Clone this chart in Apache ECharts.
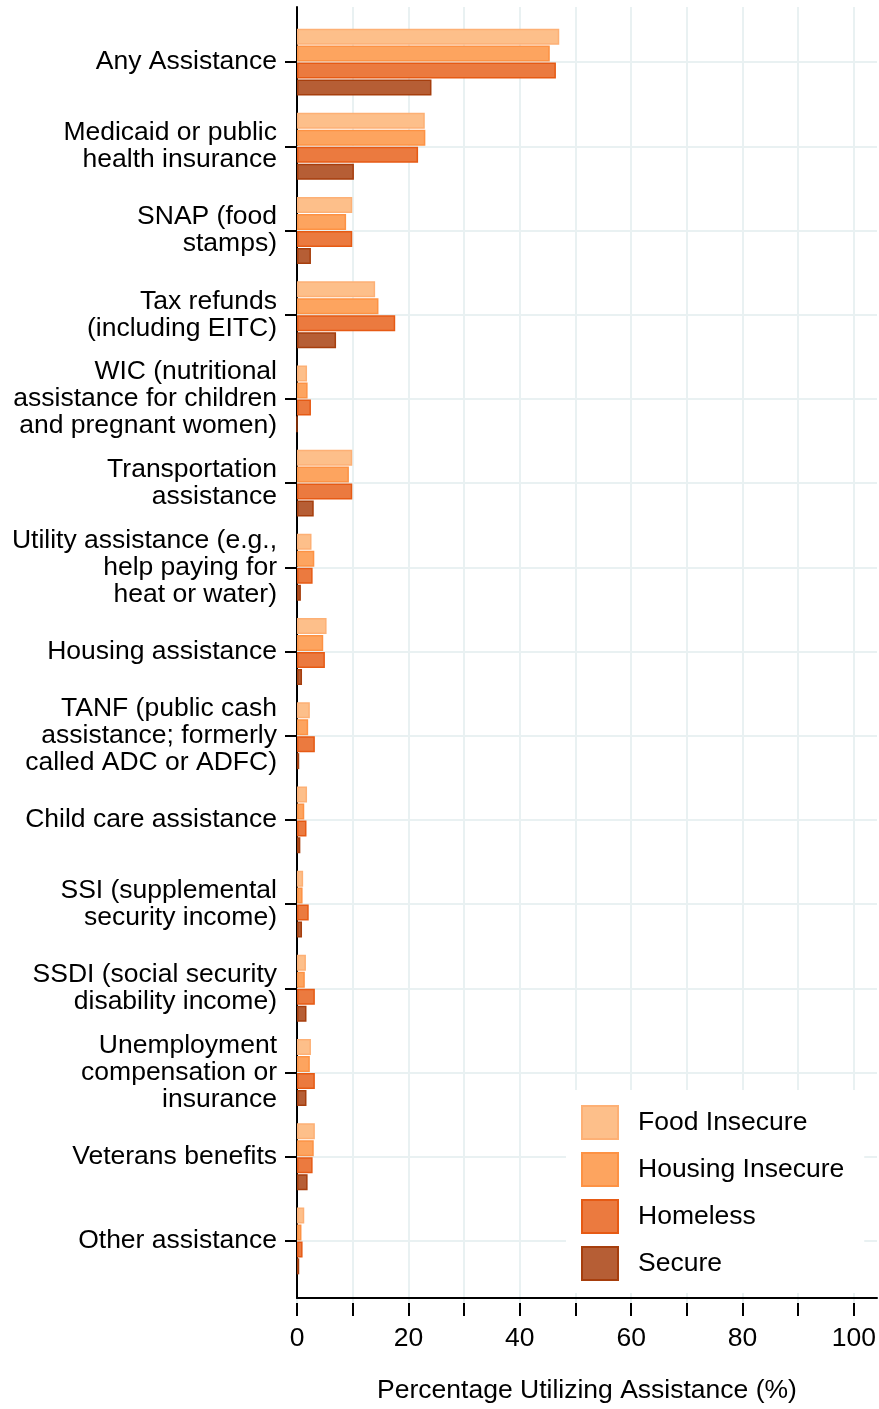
<!DOCTYPE html>
<html>
<head>
<meta charset="utf-8">
<script src="https://cdn.jsdelivr.net/npm/echarts@6/dist/echarts.min.js"></script>
<style>
html,body{margin:0;padding:0;background:#fff;}
#chart{width:879px;height:1409px;}
</style>
</head>
<body>
<div id="chart"></div>
<script>
const categories = [
  "Any Assistance",
  "Medicaid or public\nhealth insurance",
  "SNAP (food\nstamps)",
  "Tax refunds\n(including EITC)",
  "WIC (nutritional\nassistance for children\nand pregnant women)",
  "Transportation\nassistance",
  "Utility assistance (e.g.,\nhelp paying for\nheat or water)",
  "Housing assistance",
  "TANF (public cash\nassistance; formerly\ncalled ADC or ADFC)",
  "Child care assistance",
  "SSI (supplemental\nsecurity income)",
  "SSDI (social security\ndisability income)",
  "Unemployment\ncompensation or\ninsurance",
  "Veterans benefits",
  "Other assistance"
];
const seriesNames = ["Food Insecure", "Housing Insecure", "Homeless", "Secure"];
const foodInsecure    = [47.0, 22.9, 9.9, 14.0, 1.8, 9.9, 2.6, 5.3, 2.3, 1.8, 1.1, 1.6, 2.5, 3.2, 1.3];
const housingInsecure = [45.3, 23.0, 8.8, 14.6, 1.9, 9.3, 3.1, 4.7, 2.0, 1.3, 1.0, 1.4, 2.3, 3.0, 0.8];
const homeless        = [46.4, 21.7, 9.9, 17.6, 2.5, 9.9, 2.8, 5.0, 3.2, 1.7, 2.1, 3.2, 3.2, 2.8, 1.0];
const secure          = [24.1, 10.2, 2.5, 7.0, 0.0, 3.0, 0.7, 0.9, 0.4, 0.6, 0.9, 1.7, 1.7, 1.9, 0.4];
const xTickValues = [0, 20, 40, 60, 80, 100];
const xTitle = "Percentage Utilizing Assistance (%)";

const fills   = ["#FDBF8A", "#FDA45F", "#EB7A3F", "#B65E35"];
const borders = ["#FDB075", "#FD9244", "#E65A14", "#A63E0D"];
const gridColor = "#E9F1F2";
const FONT = "Liberation Sans, Arial, sans-serif";
const FS = 26.5;

const chart = echarts.init(document.getElementById('chart'), null, {renderer: 'canvas'});
const dataArr = [foodInsecure, housingInsecure, homeless, secure];

const option = {
  backgroundColor: '#ffffff',
  animation: false,
  textStyle: {fontFamily: FONT},
  grid: [
    {left: 297, top: 7, width: 580, height: 1296},
    {left: 297, top: 7, width: 558, height: 1296},
    {left: 297, top: 20, width: 558, height: 1263}
  ],
  xAxis: [
    {gridIndex: 0, type: 'value', min: 0, max: 1,
     axisLine: {show: true, onZero: false, lineStyle: {color: '#000', width: 2}},
     axisTick: {show: false}, axisLabel: {show: false}, splitLine: {show: false},
     name: xTitle, nameLocation: 'middle', nameGap: 79,
     nameTextStyle: {fontSize: FS, color: '#000', fontFamily: FONT}},
    {gridIndex: 1, type: 'value', min: 0, max: 100, interval: 10,
     axisLine: {show: false},
     axisTick: {show: true, length: 13, lineStyle: {color: '#000', width: 2}},
     axisLabel: {show: true, fontSize: FS, color: '#000', margin: 22, fontFamily: FONT,
       formatter: v => xTickValues.indexOf(v) >= 0 ? String(v) : ''},
     splitLine: {show: true, lineStyle: {color: gridColor, width: 2}}},
    {gridIndex: 2, type: 'value', min: 0, max: 100, show: false}
  ],
  yAxis: [
    {gridIndex: 0, type: 'value', min: 0, max: 1,
     axisLine: {show: true, onZero: false, lineStyle: {color: '#000', width: 2}},
     axisTick: {show: false}, axisLabel: {show: false}, splitLine: {show: false}},
    {gridIndex: 1, type: 'value', show: false},
    {gridIndex: 2, type: 'category', data: categories, inverse: true,
     axisLine: {show: false},
     axisTick: {show: true, alignWithLabel: true, length: 12, lineStyle: {color: '#000', width: 2}},
     axisLabel: {show: true, fontSize: FS, color: '#000', margin: 20, lineHeight: 27,
       align: 'right', fontFamily: FONT, interval: 0, padding: [2, 0, 0, 0]},
     splitLine: {show: false}},
    {gridIndex: 2, type: 'category', data: categories, inverse: true, position: 'left',
     axisLine: {show: false},
     axisTick: {show: true, inside: true, alignWithLabel: true, length: 580,
       lineStyle: {color: gridColor, width: 2}},
     axisLabel: {show: false}, splitLine: {show: false}}
  ],
  legend: {
    orient: 'vertical', left: 566, top: 1090,
    padding: [15, 20, 12, 15],
    backgroundColor: '#ffffff',
    itemWidth: 36, itemHeight: 33, itemGap: 12,
    icon: 'rect',
    data: seriesNames,
    textStyle: {fontSize: FS, lineHeight: 33, color: '#000', fontFamily: FONT, padding: [0, 0, 0, 15]}
  },
  series: seriesNames.map((name, i) => ({
    name: name, type: 'bar', xAxisIndex: 2, yAxisIndex: 2,
    data: dataArr[i],
    barWidth: 16, barGap: '6%', barCategoryGap: '20%',
    itemStyle: {color: fills[i], borderColor: borders[i], borderWidth: 1.5},
    z: 3
  }))
};
chart.setOption(option);
</script>
</body>
</html>
